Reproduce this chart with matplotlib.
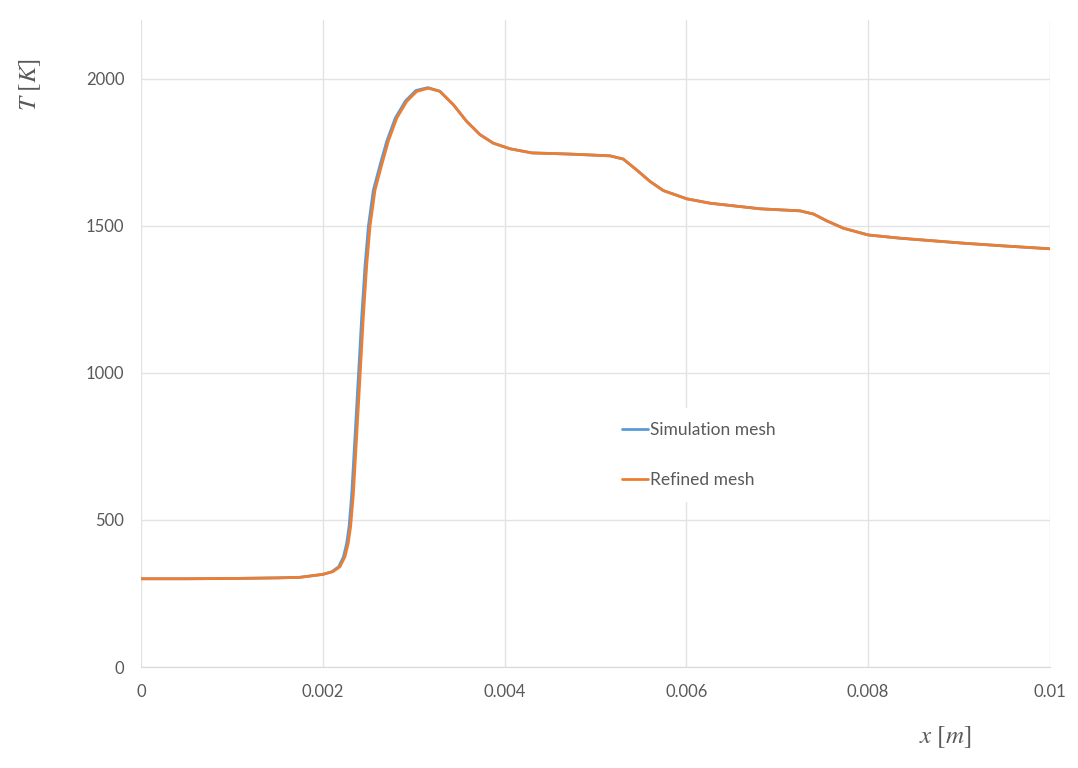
import matplotlib.pyplot as plt

x_sim = [0, 0.0005, 0.001, 0.0015, 0.00175, 0.002, 0.0021, 0.002175, 0.002228, 0.002263,
         0.002289, 0.002318, 0.002355, 0.002392, 0.002428, 0.002465, 0.002502, 0.002556,
         0.00263, 0.002703, 0.002797, 0.00291, 0.003023, 0.003155, 0.003287, 0.003436,
         0.003583, 0.00373, 0.003876, 0.00406, 0.0043, 0.00472, 0.00516, 0.005306, 0.005453,
         0.0056, 0.005746, 0.006003, 0.00626, 0.00681, 0.00725, 0.0074, 0.007544, 0.007727,
         0.008, 0.00835, 0.00905, 0.00948, 0.01]
T_sim = [300, 300, 301, 303, 305, 315, 324, 341, 375, 421,
         477, 586, 787, 990, 1190, 1366, 1500, 1621,
         1707, 1787, 1866, 1925, 1960, 1970, 1958, 1912,
         1855, 1810, 1781, 1762, 1748, 1744, 1738, 1727, 1690,
         1651, 1620, 1592, 1577, 1558, 1551, 1540, 1517, 1492,
         1469, 1458, 1441, 1432, 1422]

x_ref = [0, 0.0005, 0.001, 0.0015, 0.00175, 0.002, 0.00211, 0.002189, 0.002244, 0.00228,
         0.002306, 0.002336, 0.002373, 0.00241, 0.002446, 0.002483, 0.00252, 0.002574,
         0.002648, 0.00272, 0.002813, 0.002923, 0.003033, 0.00316, 0.003289, 0.003436,
         0.003583, 0.00373, 0.003876, 0.00406, 0.0043, 0.00472, 0.00516, 0.005306, 0.005453,
         0.0056, 0.005746, 0.006003, 0.00626, 0.00681, 0.00725, 0.0074, 0.007544, 0.007727,
         0.008, 0.00835, 0.00905, 0.00948, 0.01]
T_ref = [300, 300, 301, 303, 305, 315, 324, 341, 375, 421,
         477, 586, 787, 990, 1190, 1366, 1500, 1621,
         1707, 1787, 1866, 1923, 1957, 1968, 1957, 1912,
         1855, 1810, 1781, 1762, 1748, 1744, 1738, 1727, 1690,
         1651, 1620, 1592, 1577, 1558, 1551, 1540, 1517, 1492,
         1469, 1458, 1441, 1432, 1422]

x_ticks = [0, 0.002, 0.004, 0.006, 0.008, 0.01]
x_tick_labels = ['0', '0.002', '0.004', '0.006', '0.008', '0.01']
y_ticks = [0, 500, 1000, 1500, 2000]

plt.rcParams['font.family'] = ['Lato', 'DejaVu Sans']
plt.rcParams['mathtext.fontset'] = 'stix'
grey = '#595959'
gridc = '#e3e3e3'

fig = plt.figure(figsize=(10.78, 7.68), dpi=100)
ax = fig.add_axes([0.1308, 0.1315, 0.8432, 0.8425])

ax.plot(x_sim, T_sim, color='#5B9BD5', lw=2.0, label='Simulation mesh',
        solid_capstyle='round', solid_joinstyle='round')
ax.plot(x_ref, T_ref, color='#ED7D31', lw=2.0, label='Refined mesh',
        solid_capstyle='round', solid_joinstyle='round')

ax.set_xlim(0, 0.01)
ax.set_ylim(0, 2200)
ax.set_xticks(x_ticks)
ax.set_xticklabels(x_tick_labels)
ax.set_yticks(y_ticks)
ax.grid(True, color=gridc, lw=1.0)
ax.set_axisbelow(True)
for s in ['top', 'right', 'left']:
    ax.spines[s].set_visible(False)
ax.spines['bottom'].set_color('#d9d9d9')
ax.tick_params(length=0, labelsize=12, colors=grey, pad=12)

leg = ax.legend(loc='center', bbox_to_anchor=(0.614, 0.328), frameon=True, fontsize=12.5,
                labelspacing=1.95, handlelength=1.45, handletextpad=0.15, borderpad=0.8)
leg.get_frame().set_edgecolor('none')
leg.get_frame().set_facecolor('white')
leg.get_frame().set_alpha(1)
for t in leg.get_texts():
    t.set_color(grey)

fig.text(0.028, 0.89, r'$T\ [K]$', rotation=90, fontsize=18, color=grey, ha='center', va='center')
fig.text(0.877, 0.04, r'$x\ [m]$', fontsize=18, color=grey, ha='center', va='center')

fig.savefig('out.png', dpi=100)
